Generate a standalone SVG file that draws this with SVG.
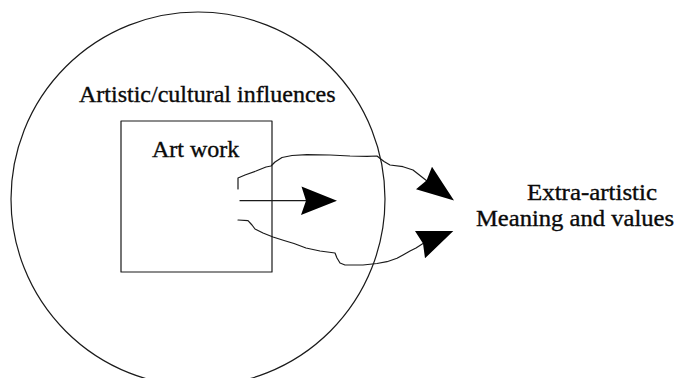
<svg xmlns="http://www.w3.org/2000/svg" width="675" height="378" viewBox="0 0 675 378">
<style>
.ln{fill:none;stroke:#1a1a1a;stroke-width:1.2;stroke-linejoin:round;stroke-linecap:round}
.hd{fill:#000;stroke:none}
.tx{font-family:"Liberation Serif","Times New Roman",serif;fill:#0a0a0a;stroke:#0a0a0a;stroke-width:0.35}
</style>
<rect x="0" y="0" width="675" height="378" fill="#fff"/>
<g id="influences">
<circle class="ln" cx="198" cy="199" r="187"/>
<text class="tx" x="79" y="102" font-size="24">Artistic/cultural influences</text>
</g>
<g id="artwork">
<rect class="ln" x="121" y="121" width="151" height="151"/>
<text class="tx" x="152" y="157" font-size="24">Art work</text>
</g>
<g id="meaning">
<text class="tx" x="527" y="200" font-size="23" textLength="130" lengthAdjust="spacingAndGlyphs">Extra-artistic</text>
<text class="tx" x="476" y="225.5" font-size="23" textLength="198" lengthAdjust="spacingAndGlyphs">Meaning and values</text>
</g>
<g id="connectors">
<path class="ln" d="M240,200.7 L307,200.7"/>
<polygon class="hd" points="337,200.7 301.5,186.5 306,200.7 301,215"/>
<path class="ln" d="M238,189 L238,178 L245,175 L256,171 L266,167 L271,166 L275,162 L282,157.5 L292,155.5 L307,154.7 L330,155 L350,156 L367,156.3 L377,156 L384,161.5 L390,165 L403,166.7 L413,170 L420,175.5 L427,181"/>
<polygon class="hd" points="454,200.5 416,189.3 426.5,180.5 432,166.7"/>
<path class="ln" d="M238,220 L248,220.7 L252,225 L255,229 L263,233 L273,237 L284,240.5 L294,243.5 L306,248 L320,251 L335,253 L337,258 L340,263 L345,265 L363,265 L377,263.5 L387,261.7 L397,258.3 L403,255 L410,251 L416,248 L423,243.5"/>
<polygon class="hd" points="453.3,231 415,231 423,243.5 425,258.3"/>
</g>
</svg>
